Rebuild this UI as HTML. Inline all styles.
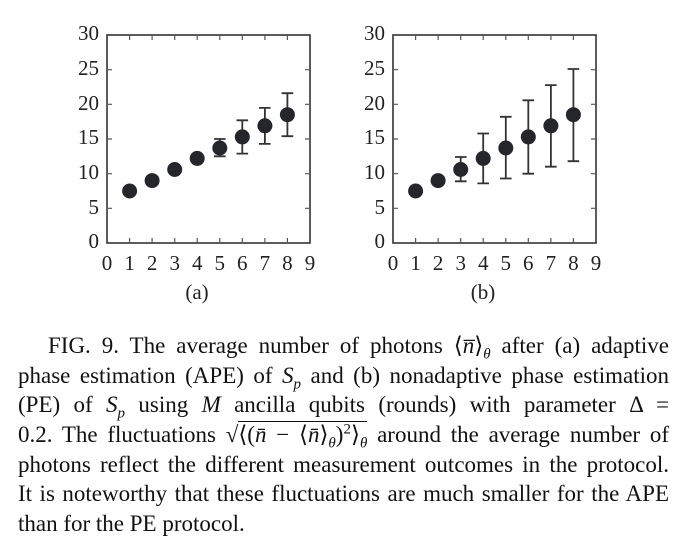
<!DOCTYPE html>
<html><head><meta charset="utf-8"><style>
body{margin:0;background:#fff;width:700px;height:538px;overflow:hidden;position:relative;font-family:"Liberation Serif",serif;}
.l{position:absolute;left:18px;width:651px;font-size:23px;line-height:29.5px;height:29.5px;text-align:justify;text-align-last:justify;white-space:nowrap;color:#111;}
.l.last{text-align-last:left;}
i{font-style:italic}
sub,sup{line-height:0;font-size:15px}
</style></head><body>
<svg width="700" height="320" style="position:absolute;left:0;top:0" font-family="Liberation Serif, serif" font-size="21" fill="#222">
<g id="a">
<rect x="107" y="35" width="203" height="208" fill="none" stroke="#333" stroke-width="1.6"/>
<g stroke="#555" stroke-width="1.2">
<path d="M129.6 243v-5M152.1 243v-5M174.7 243v-5M197.2 243v-5M219.8 243v-5M242.3 243v-5M264.9 243v-5M287.4 243v-5"/>
<path d="M129.6 35v5M152.1 35v5M174.7 35v5M197.2 35v5M219.8 35v5M242.3 35v5M264.9 35v5M287.4 35v5"/>
<path d="M107 208.3h5M107 173.7h5M107 139h5M107 104.3h5M107 69.7h5"/>
<path d="M310 208.3h-5M310 173.7h-5M310 139h-5M310 104.3h-5M310 69.7h-5"/>
</g>
<g stroke="#333" stroke-width="1.8">
<path d="M219.8 156.3v-17.3M214 156.3h11.6M214 139h11.6"/>
<path d="M242.3 153.6v-33.3M236.5 153.6h11.6M236.5 120.3h11.6"/>
<path d="M264.9 143.9v-36M259 143.9h11.6M259 107.9h11.6"/>
<path d="M287.4 136.2v-43M281.6 136.2h11.6M281.6 93.2h11.6"/>
</g>
<g fill="#24262b">
<circle cx="129.6" cy="191" r="7.5"/><circle cx="152.1" cy="180.6" r="7.5"/><circle cx="174.7" cy="169.5" r="7.5"/><circle cx="197.2" cy="158.4" r="7.5"/><circle cx="219.8" cy="148" r="7.5"/><circle cx="242.3" cy="136.9" r="7.5"/><circle cx="264.9" cy="125.8" r="7.5"/><circle cx="287.4" cy="114.7" r="7.5"/>
</g>
<g text-anchor="end">
<text x="99" y="40">30</text><text x="99" y="75">25</text><text x="99" y="110">20</text><text x="99" y="144">15</text><text x="99" y="179">10</text><text x="99" y="214">5</text><text x="99" y="248">0</text>
</g>
<g text-anchor="middle">
<text x="107" y="270">0</text><text x="129.6" y="270">1</text><text x="152.1" y="270">2</text><text x="174.7" y="270">3</text><text x="197.2" y="270">4</text><text x="219.8" y="270">5</text><text x="242.3" y="270">6</text><text x="264.9" y="270">7</text><text x="287.4" y="270">8</text><text x="310" y="270">9</text>
<text x="197" y="299">(a)</text>
</g>
</g>
<g transform="translate(286,0)">
<rect x="107" y="35" width="203" height="208" fill="none" stroke="#333" stroke-width="1.6"/>
<g stroke="#555" stroke-width="1.2">
<path d="M129.6 243v-5M152.1 243v-5M174.7 243v-5M197.2 243v-5M219.8 243v-5M242.3 243v-5M264.9 243v-5M287.4 243v-5"/>
<path d="M129.6 35v5M152.1 35v5M174.7 35v5M197.2 35v5M219.8 35v5M242.3 35v5M264.9 35v5M287.4 35v5"/>
<path d="M107 208.3h5M107 173.7h5M107 139h5M107 104.3h5M107 69.7h5"/>
<path d="M310 208.3h-5M310 173.7h-5M310 139h-5M310 104.3h-5M310 69.7h-5"/>
</g>
<g stroke="#333" stroke-width="1.8">
<path d="M174.7 181.3v-24.3M169 181.3h11.6M169 157h11.6"/>
<path d="M197.2 183.4v-49.9M191.4 183.4h11.6M191.4 133.5h11.6"/>
<path d="M219.8 178.5v-61.7M214 178.5h11.6M214 116.8h11.6"/>
<path d="M242.3 173.7v-73.4M236.5 173.7h11.6M236.5 100.3h11.6"/>
<path d="M264.9 166.7v-81.6M259 166.7h11.6M259 85.1h11.6"/>
<path d="M287.4 161.2v-92.2M281.6 161.2h11.6M281.6 69h11.6"/>
</g>
<g fill="#24262b">
<circle cx="129.6" cy="191" r="7.5"/><circle cx="152.1" cy="180.6" r="7.5"/><circle cx="174.7" cy="169.5" r="7.5"/><circle cx="197.2" cy="158.4" r="7.5"/><circle cx="219.8" cy="148" r="7.5"/><circle cx="242.3" cy="136.9" r="7.5"/><circle cx="264.9" cy="125.8" r="7.5"/><circle cx="287.4" cy="114.7" r="7.5"/>
</g>
<g text-anchor="end">
<text x="99" y="40">30</text><text x="99" y="75">25</text><text x="99" y="110">20</text><text x="99" y="144">15</text><text x="99" y="179">10</text><text x="99" y="214">5</text><text x="99" y="248">0</text>
</g>
<g text-anchor="middle">
<text x="107" y="270">0</text><text x="129.6" y="270">1</text><text x="152.1" y="270">2</text><text x="174.7" y="270">3</text><text x="197.2" y="270">4</text><text x="219.8" y="270">5</text><text x="242.3" y="270">6</text><text x="264.9" y="270">7</text><text x="287.4" y="270">8</text><text x="310" y="270">9</text>
<text x="197" y="299">(b)</text>
</g>
</g>
</svg>
<div class="l" style="top:331px;left:48px;width:621px">FIG. 9. The average number of photons ⟨<i>n̅</i>⟩<sub><i>θ</i></sub> after (a) adaptive</div>
<div class="l" style="top:361px">phase estimation (APE) of <i>S<sub>p</sub></i> and (b) nonadaptive phase estimation</div>
<div class="l" style="top:390px">(PE) of <i>S<sub>p</sub></i> using <i>M</i> ancilla qubits (rounds) with parameter Δ =</div>
<div class="l" style="top:420px">0.2. The fluctuations √<span style="border-top:1.3px solid #111">⟨(<i>n̄</i> − ⟨<i>n̄</i>⟩<sub><i>θ</i></sub>)<sup>2</sup>⟩<sub><i>θ</i></sub></span> around the average number of</div>
<div class="l" style="top:450px">photons reflect the different measurement outcomes in the protocol.</div>
<div class="l" style="top:479px">It is noteworthy that these fluctuations are much smaller for the APE</div>
<div class="l last" style="top:509px">than for the PE protocol.</div>
</body></html>
